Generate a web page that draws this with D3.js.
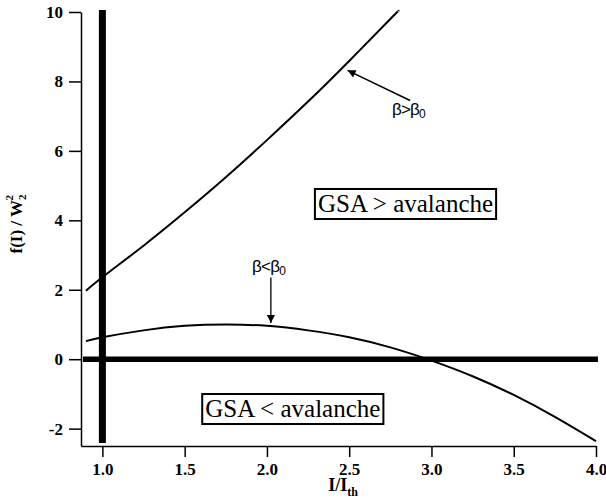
<!DOCTYPE html>
<html><head><meta charset="utf-8">
<script src="https://cdn.jsdelivr.net/npm/d3@7"></script>
<style>
html,body{margin:0;padding:0;background:#fff;}
svg{display:block;}
.serif{font-family:"Liberation Serif","Times New Roman",Tinos,"DejaVu Serif",serif;}
.sans{font-family:"Liberation Sans",Arial,Helvetica,sans-serif;}
</style></head>
<body>
<svg id="c" width="606" height="502"></svg>
<script>
// ---- data ----
const xTicks = [1.0, 1.5, 2.0, 2.5, 3.0, 3.5, 4.0];
const yTicks = [-2, 0, 2, 4, 6, 8, 10];
const upperI = [0.9, 1.0, 1.25, 1.5, 1.75, 2.0, 2.25, 2.5, 2.75, 2.8];
const upperF = [1.97, 2.36, 3.27, 4.23, 5.24, 6.31, 7.42, 8.59, 9.80, 10.03];
const lowerI = [0.9, 1.0, 1.25, 1.5, 1.75, 2.0, 2.25, 2.5, 2.75, 3.0, 3.25, 3.5, 3.75, 4.0];
const lowerF = [0.52, 0.63, 0.83, 0.96, 1.0, 0.96, 0.83, 0.63, 0.34, -0.04, -0.49, -1.03, -1.66, -2.36];
const refX = 1.0;   // threshold I/Ith
const refY = 0;     // f = 0
const labelUpper = ["β>β", "0"];
const labelLower = ["β<β", "0"];
const boxUpper = "GSA > avalanche";
const boxLower = "GSA < avalanche";

// ---- layout ----
const svg = d3.select("#c");
const x = d3.scaleLinear().domain([0.87, 4.0]).range([81, 596]);
const y = d3.scaleLinear().domain([-2.5, 10]).range([446, 12]);

// axes
const xAxis = d3.axisBottom(x).tickValues(xTicks).tickFormat(d3.format(".1f"))
  .tickSizeInner(11).tickSizeOuter(0).tickPadding(6);
const yAxis = d3.axisLeft(y).tickValues(yTicks).tickFormat(d => (d < 0 ? "-" : "") + Math.abs(d))
  .tickSizeInner(12).tickSizeOuter(0).tickPadding(6);

const gx = svg.append("g").attr("transform", `translate(0,${y.range()[0]})`).call(xAxis);
const gy = svg.append("g").attr("transform", `translate(${x.range()[0]},0)`).call(yAxis);
[gx, gy].forEach(g => {
  g.attr("font-family", null).attr("font-size", null);
  g.select(".domain").attr("stroke", "#000").attr("stroke-width", 1.5);
  g.selectAll(".tick line").attr("stroke", "#000").attr("stroke-width", 1.5);
  g.selectAll(".tick text").attr("class", "serif").style("font-weight", "bold")
    .style("font-size", "17px").attr("fill", "#000");
});

// axis titles
const xt = svg.append("text").attr("class", "serif").attr("x", 343).attr("y", 491)
  .style("font-weight", "bold").style("font-size", "18px")
  .attr("text-anchor", "middle");
xt.append("tspan").text("I/I");
xt.append("tspan").attr("dy", 5).style("font-size", "12px").text("th");

const yt = svg.append("text").attr("class", "serif").attr("transform", "translate(22,224) rotate(-90)")
  .style("font-weight", "bold").style("font-size", "17px")
  .attr("text-anchor", "middle");
yt.append("tspan").text("f(I) / W");
yt.append("tspan").style("font-size", "11px").attr("dy", 4).text("2");
yt.append("tspan").style("font-size", "11px").attr("dx", -6).attr("dy", -13).text("2");

// thick reference lines
svg.append("line").attr("x1", x(refX)).attr("x2", x(refX))
  .attr("y1", y(10) - 2).attr("y2", y(-2.41))
  .attr("stroke", "#000").attr("stroke-width", 7);
svg.append("line").attr("x1", x(0.882)).attr("x2", x(4.012))
  .attr("y1", y(refY)).attr("y2", y(refY))
  .attr("stroke", "#000").attr("stroke-width", 5.5);

// curves
const line = d3.line().x(d => x(d[0])).y(d => y(d[1])).curve(d3.curveNatural);
svg.append("path").datum(upperI.map((v, i) => [v, upperF[i]]))
  .attr("d", line).attr("fill", "none").attr("stroke", "#000").attr("stroke-width", 2);
svg.append("path").datum(lowerI.map((v, i) => [v, lowerF[i]]))
  .attr("d", line).attr("fill", "none").attr("stroke", "#000").attr("stroke-width", 2);

// arrows
const defs = svg.append("defs");
defs.append("marker").attr("id", "ah").attr("viewBox", "0 0 10 10")
  .attr("refX", 10).attr("refY", 5).attr("markerWidth", 10).attr("markerHeight", 8)
  .attr("markerUnits", "userSpaceOnUse").attr("orient", "auto")
  .append("path").attr("d", "M0,0 L10,5 L0,10 Z").attr("fill", "#000");

svg.append("line").attr("x1", x(2.87)).attr("y1", y(7.45))
  .attr("x2", x(2.49)).attr("y2", y(8.32))
  .attr("stroke", "#000").attr("stroke-width", 1.5).attr("marker-end", "url(#ah)");
svg.append("line").attr("x1", x(2.024)).attr("y1", y(2.35))
  .attr("x2", x(2.024)).attr("y2", y(1.04))
  .attr("stroke", "#000").attr("stroke-width", 1.3).attr("marker-end", "url(#ah)");

function betaLabel(px, py, parts) {
  const t = svg.append("text").attr("class", "sans").attr("x", px).attr("y", py)
    .style("font-size", "17px").attr("fill", "#000")
    .attr("letter-spacing", -0.8);
  t.append("tspan").text(parts[0]);
  t.append("tspan").style("font-size", "12px").attr("dy", 3).text(parts[1]);
}
betaLabel(x(2.76), y(7.03), labelUpper);
betaLabel(x(1.91), y(2.51), labelLower);

function boxLabel(px, py, txt) {
  const g = svg.append("g");
  const t = g.append("text").attr("class", "serif").attr("x", px).attr("y", py)
    .style("font-size", "25px").attr("fill", "#000").text(txt);
  const b = t.node().getBBox();
  g.insert("rect", "text").attr("x", b.x - 3).attr("y", b.y - 1)
    .attr("width", b.width + 6).attr("height", b.height + 3)
    .attr("fill", "#fff").attr("stroke", "#000").attr("stroke-width", 2);
}
boxLabel(x(2.31), y(4.24), boxUpper);
boxLabel(x(1.625), y(-1.665), boxLower);
</script>
</body></html>
